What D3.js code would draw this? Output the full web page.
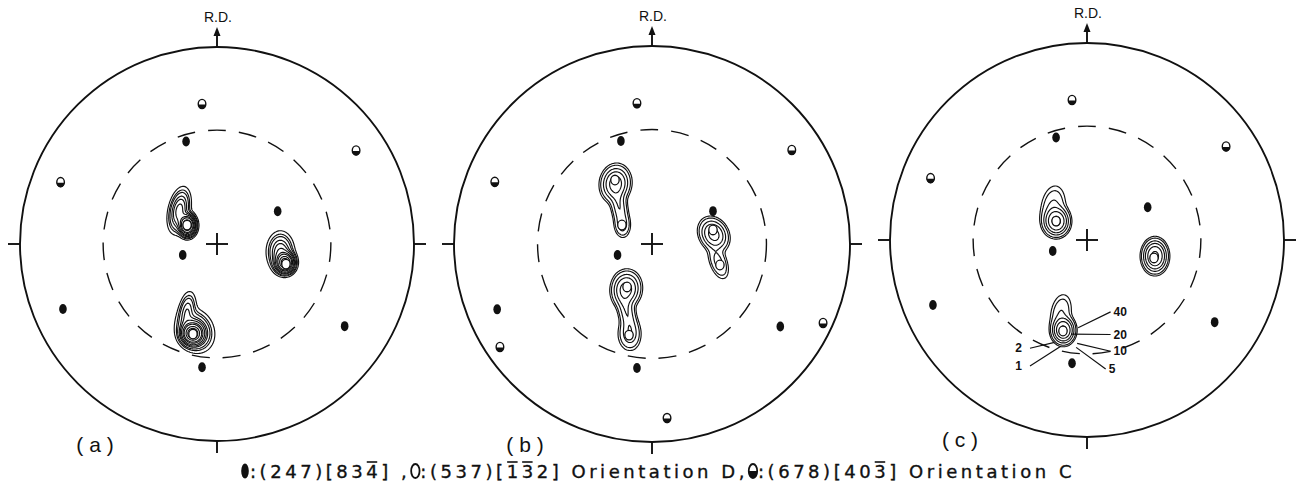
<!DOCTYPE html>
<html>
<head>
<meta charset="utf-8">
<script src="https://cdn.jsdelivr.net/npm/d3@7"></script>
<style>
  html, body { margin: 0; padding: 0; background: #fff; }
  svg { display: block; }
</style>
</head>
<body>
<svg id="fig" width="1297" height="492"></svg>
<script>
// ---------------------------------------------------------------------------
// Data. Pole positions are in unit-disc coordinates of the stereographic
// projection: x to the right (T.D.), y towards the rolling direction (R.D.).
// ---------------------------------------------------------------------------
const panelNames = ["( a )", "( b )", "( c )"];
const axisLabel = "R.D.";

// {111} poles of the (247)[83-4] component (filled symbols), every panel
const filledPoles = [
  [-0.157, 0.520], [0.308, 0.166], [-0.174, -0.056],
  [-0.782, -0.330], [0.648, -0.417], [-0.076, -0.626]
];
// poles of the (678)[40-3] component (half-filled symbols), every panel
const halfPoles = [[-0.076, 0.711], [0.706, 0.475], [-0.794, 0.314]];
// additional poles drawn in panel (b)
const extraPolesB = [[-0.768, -0.520], [0.864, -0.399], [0.076, -0.879]];

// (537)[-1-32] poles lying inside the intensity maxima (open symbols)
const openPolesA = [[-0.152, 0.096], [0.350, -0.102], [-0.122, -0.457]];
const openPolesB = [[-0.187, 0.323], [-0.152, 0.096], [0.308, 0.071],
                    [0.343, -0.106], [-0.126, -0.217], [-0.116, -0.460]];
const openPolesC = [[-0.157, 0.096], [0.340, -0.091], [-0.122, -0.462]];

// intensity levels (times random) of the contour lines
const contourLevels = [1, 2, 5, 10, 20, 40];
const contourLevelsA = [1, 2, 3, 5, 7, 10, 15, 20, 30, 40];

// measured intensity maxima: [x, y, peak intensity, spread x, spread y, tilt in deg]
const peaksA = [
  [-0.150, 0.095, 48, 0.021, 0.027, 0],
  [-0.192, 0.170, 12, 0.026, 0.056, -12],
  [0.346, -0.095, 48, 0.024, 0.026, 0],
  [0.322, -0.040, 10, 0.034, 0.050, 0],
  [-0.124, -0.455, 48, 0.028, 0.028, 0],
  [-0.112, -0.440, 10, 0.045, 0.055, 25],
  [-0.152, -0.335, 6, 0.022, 0.050, -10]
];
const peaksB = [
  [-0.184, 0.305, 30, 0.032, 0.040, -8],
  [-0.166, 0.190, 10, 0.020, 0.062, 10],
  [-0.150, 0.096, 6, 0.020, 0.030, 0],
  [0.312, 0.048, 28, 0.030, 0.038, 30],
  [0.335, -0.090, 7, 0.022, 0.045, 20],
  [-0.130, -0.228, 28, 0.032, 0.040, -8],
  [-0.128, -0.340, 10, 0.021, 0.068, 12],
  [-0.114, -0.455, 8, 0.028, 0.040, 0]
];
const peaksC = [
  [-0.155, 0.095, 50, 0.028, 0.032, 0],
  [-0.172, 0.165, 6, 0.032, 0.058, -8],
  [0.345, -0.082, 50, 0.027, 0.036, 0],
  [-0.120, -0.458, 50, 0.025, 0.030, 0],
  [-0.132, -0.370, 5, 0.028, 0.052, -10]
];

// contour annotations of panel (c): level, label position, leader end
const levelNotes = [
  [40, [0.135, -0.385], [-0.045, -0.445]],
  [20, [0.135, -0.500], [-0.080, -0.478]],
  [10, [0.135, -0.585], [-0.050, -0.525]],
  [5,  [0.110, -0.675], [-0.055, -0.545]],
  [2,  [-0.330, -0.570], [-0.165, -0.520]],
  [1,  [-0.330, -0.660], [-0.135, -0.540]]
];

// legend text runs; "bar" marks an index with a negative sign (overbar)
const legendRuns = [
  { sym: "filled" }, { t: ":(247)[83" }, { t: "4", bar: true }, { t: "] ," },
  { sym: "open" }, { t: ":(537)[" }, { t: "1", bar: true }, { t: "3", bar: true },
  { t: "2] Orientation D," },
  { sym: "half" }, { t: ":(678)[40" }, { t: "3", bar: true }, { t: "] Orientation C" }
];

// ---------------------------------------------------------------------------
// Layout
// ---------------------------------------------------------------------------
const panels = [
  { cx: 217, cy: 244, r: 197, open: openPolesA, peaks: peaksA, levels: contourLevelsA, extra: [], name: panelNames[0], nameX: 95, nameY: 452 },
  { cx: 652, cy: 244, r: 198, open: openPolesB, peaks: peaksB, levels: contourLevels, extra: extraPolesB, name: panelNames[1], nameX: 525, nameY: 452 },
  { cx: 1087, cy: 240, r: 197, open: openPolesC, peaks: peaksC, levels: contourLevels, extra: [], name: panelNames[2], nameX: 960, nameY: 447, notes: levelNotes }
];
const dashedRadius = 0.578;
const GRID = 400;

const svg = d3.select("#fig");
const ink = "#111";
const family = "'Liberation Sans', Arial, sans-serif";

function densityGrid(peaks) {
  const vals = new Float64Array(GRID * GRID);
  for (const [px, py, amp, sx, sy, tilt] of peaks) {
    const t = tilt * Math.PI / 180, c = Math.cos(t), s = Math.sin(t);
    const reach = 5 * Math.max(sx, sy);
    const i0 = Math.max(0, Math.floor((px - reach + 1) / 2 * GRID));
    const i1 = Math.min(GRID - 1, Math.ceil((px + reach + 1) / 2 * GRID));
    const j0 = Math.max(0, Math.floor((1 - (py + reach)) / 2 * GRID));
    const j1 = Math.min(GRID - 1, Math.ceil((1 - (py - reach)) / 2 * GRID));
    for (let j = j0; j <= j1; j++) {
      const v = 1 - (j + 0.5) * 2 / GRID;
      for (let i = i0; i <= i1; i++) {
        const u = -1 + (i + 0.5) * 2 / GRID;
        const du = u - px, dv = v - py;
        const ru = du * c + dv * s, rv = -du * s + dv * c;
        vals[j * GRID + i] += amp * Math.exp(-0.5 * (ru * ru / (sx * sx) + rv * rv / (sy * sy)));
      }
    }
  }
  return vals;
}

function halfPath(x, y, rx, ry) {
  return `M${x - rx},${y}A${rx},${ry} 0 0 0 ${x + rx},${y}Z`;
}

panels.forEach(p => {
  const g = svg.append("g");
  const xs = d3.scaleLinear().domain([-1, 1]).range([p.cx - p.r, p.cx + p.r]);
  const ys = d3.scaleLinear().domain([-1, 1]).range([p.cy + p.r, p.cy - p.r]);

  // outer primitive circle
  g.append("circle").attr("cx", xs(0)).attr("cy", ys(0)).attr("r", p.r)
    .attr("fill", "none").attr("stroke", ink).attr("stroke-width", 1.9);

  // dashed circle
  g.append("circle").attr("cx", xs(0)).attr("cy", ys(0)).attr("r", xs(dashedRadius) - xs(0))
    .attr("fill", "none").attr("stroke", ink).attr("stroke-width", 1.4)
    .attr("stroke-dasharray", "18 13");

  // axis ticks at left, right and bottom, and the centre cross
  const tick = 12;
  const lines = g.append("g").attr("stroke", ink).attr("stroke-width", 1.9);
  lines.append("line").attr("x1", xs(-1) - tick).attr("x2", xs(-1)).attr("y1", ys(0)).attr("y2", ys(0));
  lines.append("line").attr("x1", xs(1)).attr("x2", xs(1) + tick).attr("y1", ys(0)).attr("y2", ys(0));
  lines.append("line").attr("x1", xs(0)).attr("x2", xs(0)).attr("y1", ys(-1)).attr("y2", ys(-1) + tick);
  lines.append("line").attr("x1", xs(0) - 11).attr("x2", xs(0) + 11).attr("y1", ys(0)).attr("y2", ys(0));
  lines.append("line").attr("x1", xs(0)).attr("x2", xs(0)).attr("y1", ys(0) - 11).attr("y2", ys(0) + 11);

  // R.D. arrow
  const top = ys(1);
  lines.append("line").attr("x1", xs(0)).attr("x2", xs(0)).attr("y1", top).attr("y2", top - 15);
  g.append("path").attr("d", `M${xs(0) - 3.5},${top - 11}L${xs(0)},${top - 20}L${xs(0) + 3.5},${top - 11}Z`)
    .attr("fill", ink);
  g.append("text").attr("x", xs(0) + 1).attr("y", top - 25).attr("text-anchor", "middle")
    .attr("font-family", family).attr("font-size", 14)
    .attr("fill", ink).text(axisLabel);

  // intensity contours
  const vals = densityGrid(p.peaks);
  const contours = d3.contours().size([GRID, GRID]).thresholds(p.levels)(vals);
  const proj = d3.geoIdentity().scale(2 * p.r / GRID).translate([p.cx - p.r, p.cy - p.r]);
  const path = d3.geoPath(proj);
  g.append("g").selectAll("path").data(contours).join("path")
    .attr("d", path).attr("fill", "none").attr("stroke", ink).attr("stroke-width", 1.15);

  // filled poles
  g.append("g").selectAll("ellipse").data(filledPoles).join("ellipse")
    .attr("cx", d => xs(d[0])).attr("cy", d => ys(d[1])).attr("rx", 3.8).attr("ry", 5)
    .attr("fill", ink);

  // half-filled poles
  const half = g.append("g").selectAll("g").data(halfPoles.concat(p.extra)).join("g");
  half.append("ellipse").attr("cx", d => xs(d[0])).attr("cy", d => ys(d[1])).attr("rx", 3.8).attr("ry", 4.6)
    .attr("fill", "#fff").attr("stroke", ink).attr("stroke-width", 1.4);
  half.append("path").attr("d", d => halfPath(xs(d[0]), ys(d[1]) + 0.5, 3.8, 4.6)).attr("fill", ink);

  // open poles at the intensity maxima
  g.append("g").selectAll("ellipse").data(p.open).join("ellipse")
    .attr("cx", d => xs(d[0])).attr("cy", d => ys(d[1])).attr("rx", 4.2).attr("ry", 4.8)
    .attr("fill", "#fff").attr("stroke", ink).attr("stroke-width", 1.3);

  // contour level annotations
  if (p.notes) {
    const ng = g.append("g");
    ng.selectAll("line").data(p.notes).join("line")
      .attr("x1", d => xs(d[1][0]) + (d[1][0] > 0 ? -3 : 8)).attr("y1", d => ys(d[1][1]) - 4)
      .attr("x2", d => xs(d[2][0])).attr("y2", d => ys(d[2][1]))
      .attr("stroke", ink).attr("stroke-width", 1.2);
    ng.selectAll("text").data(p.notes).join("text")
      .attr("x", d => xs(d[1][0])).attr("y", d => ys(d[1][1]))
      .attr("text-anchor", d => d[1][0] > 0 ? "start" : "end")
      .attr("font-family", family).attr("font-size", 12).attr("font-weight", "bold")
      .attr("fill", ink).text(d => d[0]);
  }

  // panel name
  svg.append("text").attr("x", p.nameX).attr("y", p.nameY).attr("text-anchor", "middle")
    .attr("font-family", family).attr("font-size", 21)
    .attr("fill", ink).attr("xml:space", "preserve").text(p.name);
});

// ---------------------------------------------------------------------------
// Legend line with drawn symbols and overbarred indices
// ---------------------------------------------------------------------------
(function legend() {
  const x0 = 240, x1 = 1075, base = 478, fs = 18, symW = 10;
  const lfamily = "'DejaVu Sans', Verdana, sans-serif";
  const lg = svg.append("g");
  const texts = legendRuns.map(r => {
    if (!r.t) return null;
    return lg.append("text").attr("font-family", lfamily).attr("font-size", fs)
      .attr("fill", ink).attr("stroke", ink).attr("stroke-width", 0.35)
      .attr("xml:space", "preserve").attr("y", base).text(r.t);
  });
  let natural = 0, chars = 0;
  legendRuns.forEach((r, i) => {
    if (r.t) { natural += texts[i].node().getComputedTextLength(); chars += r.t.length; }
    else natural += symW;
  });
  const ls = (x1 - x0 - natural) / chars;
  let x = x0;
  legendRuns.forEach((r, i) => {
    if (r.t) {
      const tn = texts[i].attr("letter-spacing", ls).attr("x", x);
      const w = tn.node().getComputedTextLength();
      if (r.bar) {
        lg.append("line").attr("x1", x + 0.5).attr("x2", x + w - ls - 0.5)
          .attr("y1", base - 16).attr("y2", base - 16).attr("stroke", ink).attr("stroke-width", 1.6);
      }
      x += w;
    } else {
      const cx = x + symW / 2, cy = base - 7;
      if (r.sym === "filled") {
        lg.append("ellipse").attr("cx", cx).attr("cy", cy).attr("rx", 3.8).attr("ry", 7.5).attr("fill", ink);
      } else if (r.sym === "open") {
        lg.append("ellipse").attr("cx", cx).attr("cy", cy).attr("rx", 4.2).attr("ry", 7)
          .attr("fill", "#fff").attr("stroke", ink).attr("stroke-width", 1.8);
      } else {
        lg.append("ellipse").attr("cx", cx).attr("cy", cy).attr("rx", 4.2).attr("ry", 7)
          .attr("fill", "#fff").attr("stroke", ink).attr("stroke-width", 1.8);
        lg.append("path").attr("d", halfPath(cx, cy, 4.2, 7)).attr("fill", ink);
      }
      x += symW;
    }
  });
})();
</script>
</body>
</html>
